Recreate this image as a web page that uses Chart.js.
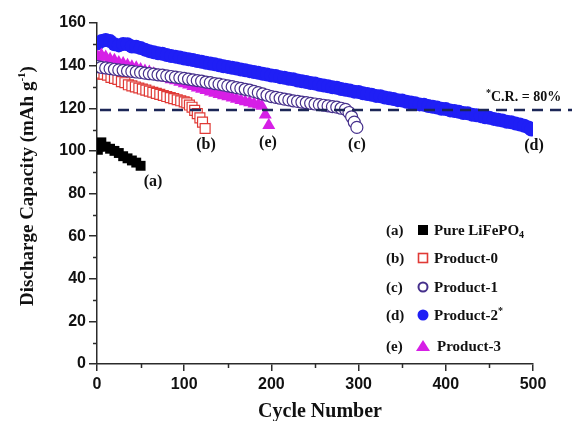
<!DOCTYPE html>
<html>
<head>
<meta charset="utf-8">
<script src="https://cdn.jsdelivr.net/npm/chart.js@4.4.0/dist/chart.umd.min.js"></script>
<style>
  html, body { margin: 0; padding: 0; background: #fff; }
  #wrap { width: 572px; height: 421px; position: relative; }
</style>
</head>
<body>
<div id="wrap"><canvas id="chart"></canvas></div>
<script>
// Data (cycle number -> discharge capacity, mAh/g)
const cyclesA = [1, 3, 5, 10, 15, 20, 25, 30, 35, 40, 45, 50];
const capA = [100.5, 102, 104, 102, 101, 100, 99, 97.5, 96.5, 95.5, 94.5, 93];

const cyclesB = [1, 4, 8, 12, 16, 20, 24, 28, 32, 36, 40, 44, 48, 52, 56, 60, 64, 68, 72, 76, 80, 84, 88, 92, 96, 100,
  103, 106, 109, 112, 115, 118, 121, 124];
const capB = [136, 136.5, 136, 135.5, 134.5, 134, 133.5, 132.5, 132, 131, 130.5, 130, 129.5, 129, 128.5, 128, 127.5, 127,
  126.5, 126, 125.5, 125, 124.5, 124, 123.5, 123, 122.5, 121.5, 120.5, 119, 117.5, 115.5, 113.5, 110.5];

const cyclesC = [1, 5, 10, 15, 20, 25, 30, 35, 40, 45, 50, 55, 60, 65, 70, 75, 80, 85, 90, 95, 100, 105, 110, 115, 120,
  125, 130, 135, 140, 145, 150, 155, 160, 165, 170, 175, 180, 185, 190, 195, 200, 205, 210, 215, 220, 225, 230, 235,
  240, 245, 250, 255, 260, 265, 270, 275, 280, 285, 289, 292, 295, 298];
const capC = [139.5, 139.2, 138.9, 138.6, 138.3, 138, 137.8, 137.5, 137.3, 137, 136.8, 136.5, 136.2, 136, 135.7, 135.5,
  135.2, 134.9, 134.6, 134.3, 134, 133.7, 133.3, 133, 132.7, 132.3, 132, 131.6, 131.3, 130.9, 130.5, 130.1, 129.7, 129.3,
  128.9, 128.5, 127.9, 127.3, 126.7, 126.1, 125.5, 125.1, 124.7, 124.3, 123.9, 123.5, 123.2, 122.9, 122.6, 122.3, 122,
  121.7, 121.4, 121.1, 120.8, 120.5, 120, 119.5, 118, 116, 113.5, 111];

const cyclesD = [1, 5, 10, 15, 20, 25, 30, 35, 40, 45, 50, 55, 60, 65, 70, 75, 80, 85, 90, 95, 100, 105, 110, 115, 120,
  125, 130, 135, 140, 145, 150, 155, 160, 165, 170, 175, 180, 185, 190, 195, 200, 205, 210, 215, 220, 225, 230, 235,
  240, 245, 250, 255, 260, 265, 270, 275, 280, 285, 290, 295, 300, 305, 310, 315, 320, 325, 330, 335, 340, 345, 350,
  355, 360, 365, 370, 375, 380, 385, 390, 395, 400, 405, 410, 415, 420, 425, 430, 435, 440, 445, 450, 455, 460, 465,
  470, 475, 480, 485, 490, 495, 498];
const capD = [150.5, 151.5, 152, 151.5, 150, 149.5, 150.2, 150, 149, 148.8, 148.3, 147.5, 146.8, 146.3, 145.8, 145.6,
  145, 144.5, 144.2, 143.8, 143.3, 143, 142.6, 142.2, 141.8, 141.3, 141, 140.6, 140.2, 139.7, 139.4, 139, 138.6, 138.2,
  137.8, 137.4, 137, 136.6, 136.2, 135.8, 135.4, 135.1, 134.6, 134.3, 133.8, 133.6, 133, 132.7, 132.3, 131.8, 131.6,
  131, 130.7, 130.3, 129.8, 129.6, 129, 128.7, 128.3, 127.8, 127.6, 127, 126.7, 126.3, 125.8, 125.6, 125, 124.7, 124.3,
  123.8, 123.6, 123, 122.7, 122.3, 121.8, 121.6, 121, 120.7, 120.3, 119.8, 119.6, 119, 118.7, 118.3, 117.8, 117.6, 117,
  116.7, 116.3, 115.8, 115.5, 115, 114.6, 114.2, 113.7, 113.4, 112.8, 112.4, 111.8, 111, 110];

const cyclesE = [1, 5, 10, 15, 20, 25, 30, 35, 40, 45, 50, 55, 60, 65, 70, 75, 80, 85, 90, 95, 100, 105, 110, 115, 120,
  125, 130, 135, 140, 145, 150, 155, 160, 165, 170, 175, 180, 185, 189, 193, 197];
const capE = [144, 145, 144, 143, 142.5, 141.5, 141, 140.2, 139.5, 139, 138.2, 137.5, 137, 136.2, 135.5, 135, 134.2,
  133.5, 133, 132.3, 131.6, 131, 130.3, 129.6, 129, 128.4, 127.8, 127.2, 126.6, 126, 125.5, 124.9, 124.3, 123.8, 123.2,
  122.7, 122.1, 121.6, 121, 117, 112];

const seriesTags = ['(a)', '(b)', '(c)', '(d)', '(e)'];
const seriesNames = ['Pure LiFePO4', 'Product-0', 'Product-1', 'Product-2*', 'Product-3'];
const crLevel = 119.2;   // 80% capacity retention line
const xTicks = [0, 100, 200, 300, 400, 500];
const yTicks = [0, 20, 40, 60, 80, 100, 120, 140, 160];
const xMinor = [50, 150, 250, 350, 450];
const yMinor = [10, 30, 50, 70, 90, 110, 130, 150];

const colA = '#000000', colB = '#e03a36', colC = '#46308c', colD = '#1f1ff5', colE = '#d61fe6';
const axisColor = '#2b2b2b';
const serif = '"Liberation Serif", "Times New Roman", serif';
const sans = '"Liberation Sans", Arial, sans-serif';

const toPts = (xs, ys) => xs.map((x, i) => ({ x: x, y: ys[i] }));

// draw text made of pieces (for sub/superscripts)
function richWidth(ctx, parts) {
  let w = 0;
  parts.forEach(p => { ctx.font = p.font; w += ctx.measureText(p.t).width; });
  return w;
}
function drawRich(ctx, parts, x, y) {
  let cx = x;
  parts.forEach(p => {
    ctx.font = p.font;
    ctx.fillText(p.t, cx, y + (p.dy || 0));
    cx += ctx.measureText(p.t).width;
  });
}

const decor = {
  id: 'decor',
  afterDatasetsDraw(chart) {
    const { ctx, chartArea: a, scales: { y } } = chart;
    const py = y.getPixelForValue(crLevel);
    ctx.save();
    ctx.strokeStyle = '#1c2757';
    ctx.lineWidth = 2.5;
    ctx.setLineDash([11, 7]);
    ctx.beginPath();
    ctx.moveTo(a.left + 3, py);
    ctx.lineTo(chart.width, py);
    ctx.stroke();
    ctx.restore();
  },
  afterDraw(chart) {
    const { ctx, chartArea: a, scales: { x, y } } = chart;
    ctx.save();
    // minor ticks
    ctx.strokeStyle = axisColor;
    ctx.lineWidth = 1.5;
    yMinor.forEach(v => {
      const py = Math.round(y.getPixelForValue(v)) + 0.5;
      ctx.beginPath(); ctx.moveTo(a.left - 4, py); ctx.lineTo(a.left, py); ctx.stroke();
    });
    xMinor.forEach(v => {
      const px = Math.round(x.getPixelForValue(v)) + 0.5;
      ctx.beginPath(); ctx.moveTo(px, a.bottom); ctx.lineTo(px, a.bottom + 4); ctx.stroke();
    });

    ctx.fillStyle = '#111';
    ctx.textBaseline = 'alphabetic';

    // axis titles
    const tf = 'bold 19px ' + serif, tfs = 'bold 11px ' + serif;
    const yTitle = [{ t: 'Discharge Capacity (mAh g', font: tf }, { t: '-1', font: tfs, dy: -8 }, { t: ')', font: tf }];
    ctx.save();
    ctx.translate(26, 186);
    ctx.rotate(-Math.PI / 2);
    drawRich(ctx, yTitle, -richWidth(ctx, yTitle) / 2, 7);
    ctx.restore();
    ctx.font = 'bold 20px ' + serif;
    ctx.textAlign = 'center';
    ctx.fillText('Cycle Number', 320, 417);

    // curve labels
    ctx.font = 'bold 16px ' + serif;
    ctx.textBaseline = 'middle';
    const tagPos = [[153, 182], [206, 145], [357, 145], [534, 146], [268, 143]];
    seriesTags.forEach((t, i) => ctx.fillText(t, tagPos[i][0], tagPos[i][1]));

    // C.R. note
    ctx.textAlign = 'left';
    ctx.textBaseline = 'alphabetic';
    drawRich(ctx, [{ t: '*', font: 'bold 10px ' + serif, dy: -5 }, { t: 'C.R. = 80%', font: 'bold 14px ' + serif }], 486, 101);

    // legend
    const rows = [230, 258, 287, 315, 346];
    const lf = 'bold 15px ' + serif, lfs = 'bold 10px ' + serif;
    const nameParts = [
      [{ t: 'Pure LiFePO', font: lf }, { t: '4', font: lfs, dy: 3 }],
      [{ t: 'Product-0', font: lf }],
      [{ t: 'Product-1', font: lf }],
      [{ t: 'Product-2', font: lf }, { t: '*', font: lfs, dy: -6 }],
      [{ t: 'Product-3', font: lf }]
    ];
    rows.forEach((ry, i) => {
      ctx.font = lf;
      ctx.fillStyle = '#111';
      ctx.fillText(seriesTags[i], 386, ry + 5);
      drawRich(ctx, nameParts[i], i === 4 ? 437 : 434, ry + 5);
      const mx = 423;
      ctx.lineWidth = 1.6;
      if (i === 0) { ctx.fillStyle = colA; ctx.fillRect(mx - 5, ry - 5, 10, 10); }
      if (i === 1) { ctx.strokeStyle = colB; ctx.strokeRect(mx - 4.5, ry - 4.5, 9, 9); }
      if (i === 2) { ctx.strokeStyle = colC; ctx.lineWidth = 2; ctx.beginPath(); ctx.arc(mx, ry, 4.5, 0, Math.PI * 2); ctx.stroke(); }
      if (i === 3) { ctx.fillStyle = colD; ctx.beginPath(); ctx.arc(mx, ry, 5.5, 0, Math.PI * 2); ctx.fill(); }
      if (i === 4) {
        ctx.fillStyle = colE; ctx.beginPath();
        ctx.moveTo(mx, ry - 6); ctx.lineTo(mx + 7, ry + 5); ctx.lineTo(mx - 7, ry + 5); ctx.closePath(); ctx.fill();
      }
    });
    ctx.restore();
  }
};

const ctx = document.getElementById('chart').getContext('2d');
new Chart(ctx, {
  type: 'scatter',
  data: {
    datasets: [
      { label: seriesNames[0], data: toPts(cyclesA, capA), pointStyle: 'rect', pointRadius: 7,
        backgroundColor: colA, borderColor: colA, borderWidth: 0, order: 4 },
      { label: seriesNames[1], data: toPts(cyclesB, capB), pointStyle: 'rect', pointRadius: 7,
        backgroundColor: '#ffffff', borderColor: colB, borderWidth: 1.2, order: 1 },
      { label: seriesNames[2], data: toPts(cyclesC, capC), pointStyle: 'circle', pointRadius: 6,
        backgroundColor: '#ffffff', borderColor: colC, borderWidth: 1.2, order: 0 },
      { label: seriesNames[3], data: toPts(cyclesD, capD), pointStyle: 'circle', pointRadius: 7,
        backgroundColor: colD, borderColor: colD, borderWidth: 0, order: 3 },
      { label: seriesNames[4], data: toPts(cyclesE, capE), pointStyle: 'triangle', pointRadius: 7.5,
        backgroundColor: colE, borderColor: colE, borderWidth: 0, order: 2 }
    ]
  },
  options: {
    responsive: true,
    maintainAspectRatio: false,
    devicePixelRatio: 1,
    animation: false,
    layout: { padding: { top: 23, right: 39, left: 0, bottom: 0 } },
    plugins: { legend: { display: false }, tooltip: { enabled: false } },
    scales: {
      x: {
        type: 'linear', min: 0, max: 500,
        afterBuildTicks: s => { s.ticks = xTicks.map(v => ({ value: v })); },
        afterFit: s => { s.height = 57; },
        grid: { drawOnChartArea: false, drawTicks: true, tickLength: 7, color: axisColor, lineWidth: 1.5 },
        border: { display: true, color: axisColor, width: 1.5 },
        ticks: { color: '#111', padding: 4, maxRotation: 0, font: { family: sans, size: 16, weight: 'bold' } }
      },
      y: {
        type: 'linear', min: 0, max: 160,
        afterBuildTicks: s => { s.ticks = yTicks.map(v => ({ value: v })); },
        afterFit: s => { s.width = 97; },
        grid: { drawOnChartArea: false, drawTicks: true, tickLength: 8, color: axisColor, lineWidth: 1.5 },
        border: { display: true, color: axisColor, width: 1.5 },
        ticks: { color: '#111', padding: 3, font: { family: sans, size: 16, weight: 'bold' } }
      }
    }
  },
  plugins: [decor]
});
</script>
</body>
</html>
